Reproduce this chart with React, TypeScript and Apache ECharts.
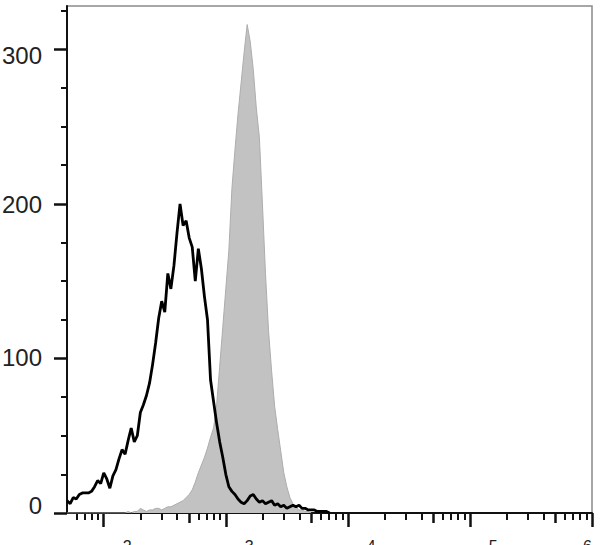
import React, { useEffect, useRef } from "react";
import * as echarts from "echarts";

// Histogram bins on a log10 fluorescence scale
const BIN_START = 1.7;
const BIN_STEP = 0.025;

// Black open histogram (control)
const controlCounts = [
  8, 6, 10, 9, 12, 13, 13, 13, 14, 17,
  21, 19, 26, 22, 16, 24, 28, 35, 41, 38,
  47, 55, 46, 50, 65, 70, 76, 84, 96, 110,
  126, 137, 130, 155, 145, 160, 181, 200, 186, 189,
  178, 172, 150, 171, 158, 140, 125, 86, 72, 58,
  46, 36, 25, 17, 14, 12, 9, 7, 6, 8,
  11, 12, 9, 7, 8, 6, 7, 8, 5, 6,
  4, 5, 3, 4, 5, 4, 5, 3, 3, 2,
  2, 2, 1, 1, 1, 1, 0,
];

// Grey filled histogram (stained)
const stainedCounts = [
  0, 0, 0, 0, 0, 0, 0, 0, 0, 0,
  0, 0, 0, 0, 0, 0, 0, 0, 0, 0,
  1, 0, 1, 1, 3, 2, 1, 2, 2, 3,
  3, 2, 3, 4, 4, 5, 6, 7, 8, 10,
  12, 15, 20, 26, 31, 36, 42, 49, 55, 70,
  95, 120, 145, 170, 210, 235, 258, 278, 298, 316,
  305, 287, 262, 243, 200, 155, 118, 92, 69, 54,
  40, 26, 17, 10, 6, 4, 2, 2, 1, 1,
  0,
];

const yMajorTicks = [0, 100, 200, 300];
const yMinorTicks = [25, 50, 75, 125, 150, 175, 225, 250, 275, 325];
const xDecadeExponents = [2, 3, 4, 5, 6];
const xMinorMultiples = [2, 3, 4, 6, 7, 8, 9];
const xMidMultiple = 5;
const X_MIN_VALUE = 50;
const Y_MAX = 328;

export default function App() {
  const ref = useRef<HTMLDivElement>(null);

  useEffect(() => {
    if (!ref.current) return;
    const chart = echarts.init(ref.current, null, { renderer: "svg" });

    const xMin = Math.log10(X_MIN_VALUE);
    const xMax = xDecadeExponents[xDecadeExponents.length - 1];
    const xMajor = xDecadeExponents.slice();
    const xMid: number[] = [];
    const xMinor: number[] = [];
    for (let e = 1; e < xMax; e++) {
      const m = Math.log10(xMidMultiple * Math.pow(10, e));
      if (m > xMin && m < xMax) xMid.push(m);
      xMinorMultiples.forEach((n) => {
        const v = Math.log10(n * Math.pow(10, e));
        if (v > xMin && v < xMax) xMinor.push(v);
      });
    }

    const pairs = (counts: number[]) =>
      counts.map((c, i) => [+(BIN_START + i * BIN_STEP).toFixed(4), c]);

    const font = "'Liberation Sans', Arial, sans-serif";

    const baseX = {
      type: "value",
      position: "bottom",
      min: xMin,
      max: xMax,
      gridIndex: 0,
      splitLine: { show: false },
    };

    chart.setOption({
      animation: false,
      grid: {
        left: 67,
        right: 16,
        top: 6,
        bottom: 32,
        show: true,
        borderColor: "#8a8a8a",
        borderWidth: 1.5,
        containLabel: false,
        outerBoundsMode: "none",
      },
      xAxis: [
        {
          ...baseX,
          axisLine: { show: true, onZero: false, lineStyle: { color: "#111", width: 2 } },
          axisTick: {
            show: true,
            customValues: xMajor,
            length: 14,
            lineStyle: { color: "#111", width: 2.5 },
          },
          axisLabel: {
            show: true,
            customValues: xMajor,
            margin: 25,
            padding: [0, 0, 0, 20],
            alignMaxLabel: "right",
            color: "#222",
            fontFamily: font,
            formatter: (v: number) => `{b|10}{s|${Math.round(v)}}`,
            rich: {
              b: { fontSize: 24, fontFamily: font, color: "#222", lineHeight: 36, verticalAlign: "bottom" },
              s: { fontSize: 16, fontFamily: font, color: "#222", lineHeight: 16, verticalAlign: "top" },
            },
          },
        },
        {
          ...baseX,
          axisLine: { show: false, onZero: false },
          axisTick: {
            show: true,
            customValues: xMid,
            length: 10,
            lineStyle: { color: "#111", width: 2.5 },
          },
          axisLabel: { show: false },
        },
        {
          ...baseX,
          axisLine: { show: false, onZero: false },
          axisTick: {
            show: true,
            customValues: xMinor,
            length: 7,
            lineStyle: { color: "#111", width: 2 },
          },
          axisLabel: { show: false },
        },
      ],
      yAxis: [
        {
          type: "value",
          position: "left",
          min: 0,
          max: Y_MAX,
          splitLine: { show: false },
          axisLine: { show: true, onZero: false, lineStyle: { color: "#111", width: 2 } },
          axisTick: {
            show: true,
            customValues: yMajorTicks,
            length: 13,
            lineStyle: { color: "#111", width: 2.5 },
          },
          axisLabel: {
            show: true,
            customValues: yMajorTicks,
            margin: 25,
            fontSize: 24,
            color: "#222",
            fontFamily: font,
            formatter: (v: number) => `{y${v}|${v}}`,
            rich: {
              y0: { fontSize: 24, fontFamily: font, color: "#222", padding: [0, 0, 16, 0] },
              y100: { fontSize: 24, fontFamily: font, color: "#222", padding: [0, 0, 2, 0] },
              y200: { fontSize: 24, fontFamily: font, color: "#222", padding: [2, 0, 0, 0] },
              y300: { fontSize: 24, fontFamily: font, color: "#222", padding: [12, 0, 0, 0] },
            },
          },
        },
        {
          type: "value",
          position: "left",
          min: 0,
          max: Y_MAX,
          splitLine: { show: false },
          axisLine: { show: false, onZero: false },
          axisTick: {
            show: true,
            customValues: yMinorTicks,
            length: 6,
            lineStyle: { color: "#111", width: 2 },
          },
          axisLabel: { show: false },
        },
      ],
      series: [
        {
          name: "Stained",
          type: "line",
          xAxisIndex: 0,
          yAxisIndex: 0,
          data: pairs(stainedCounts),
          symbol: "none",
          lineStyle: { color: "#adadad", width: 1 },
          areaStyle: { color: "#c2c2c2", opacity: 1 },
          z: 2,
        },
        {
          name: "Control",
          type: "line",
          xAxisIndex: 0,
          yAxisIndex: 0,
          data: pairs(controlCounts),
          symbol: "none",
          lineStyle: { color: "#000", width: 2.8 },
          z: 3,
        },
      ],
    });

    return () => chart.dispose();
  }, []);

  return (
    <div
      ref={ref}
      style={{ position: "absolute", left: 0, top: 0, width: 608, height: 545 }}
    />
  );
}
